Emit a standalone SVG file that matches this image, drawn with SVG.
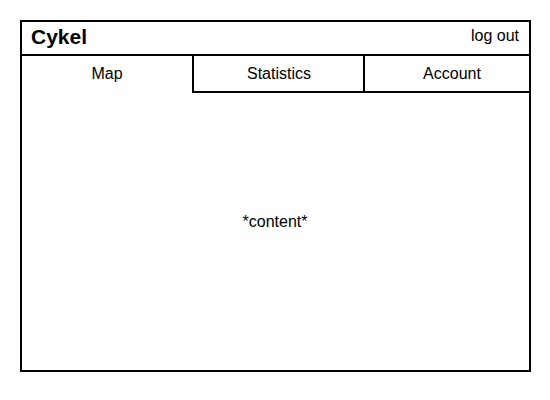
<svg xmlns="http://www.w3.org/2000/svg" width="550" height="400" viewBox="0 0 550 400">
<style>
.ln{stroke:#000;stroke-width:2;fill:none}
.t{font-family:"Liberation Sans",Arial,sans-serif;font-size:16px;fill:#000}
.c{text-anchor:middle}
</style>
<rect x="0" y="0" width="550" height="400" fill="#fff"/>
<g id="window">
<rect class="ln" x="21" y="21" width="509" height="350"/>
</g>
<g id="header">
<line class="ln" x1="21" y1="55" x2="530" y2="55"/>
<text class="t" x="31" y="44" style="font-size:21px;font-weight:bold">Cykel</text>
<text class="t" x="519" y="41" text-anchor="end">log out</text>
</g>
<g id="tab-map">
<text class="t c" x="107" y="79">Map</text>
</g>
<g id="tab-statistics">
<path class="ln" d="M193 55 V92 H364"/>
<text class="t c" x="279" y="79">Statistics</text>
</g>
<g id="tab-account">
<path class="ln" d="M364 55 V92 H530"/>
<text class="t c" x="452" y="79">Account</text>
</g>
<g id="content">
<text class="t c" x="275" y="227">*content*</text>
</g>
<g id="connectors"/>
</svg>
